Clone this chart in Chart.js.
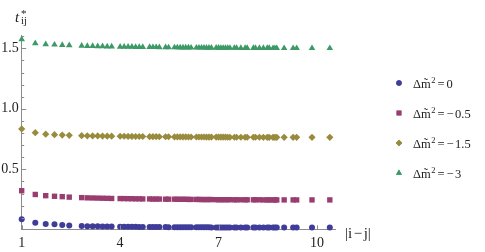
<!DOCTYPE html>
<html>
<head>
<meta charset="utf-8">
<script src="https://cdn.jsdelivr.net/npm/chart.js@4.4.1/dist/chart.umd.min.js"></script>
<style>
  html, body { margin: 0; padding: 0; background: #fff; }
  #wrap { width: 485px; height: 252px; }
</style>
</head>
<body>
<div id="wrap"><canvas id="plot" width="485" height="252"></canvas></div>
<script>
// distances |i-j| on the lattice
const dist = [1, 1.414, 1.732, 2, 2.236, 2.449, 2.828, 3, 3.162, 3.317,
  3.464, 3.606, 3.742, 4, 4.123, 4.243, 4.359, 4.472, 4.583, 4.690,
  4.899, 5, 5.099, 5.196, 5.385, 5.477, 5.657, 5.745, 5.831, 5.916,
  6, 6.083, 6.164, 6.325, 6.403, 6.481, 6.557, 6.633, 6.708, 6.782,
  6.928, 7, 7.071, 7.141, 7.211, 7.280, 7.348, 7.483, 7.550, 7.681,
  7.810, 7.874, 8.062, 8.124, 8.246, 8.367, 8.485, 8.544, 8.660, 8.718,
  8.775, 9, 9.274, 9.381, 9.849, 10.392];

// t*_ij for each Δm̃² value
const tZero = [0.087, 0.059, 0.048, 0.046, 0.040, 0.035, 0.031, 0.030, 0.030, 0.029,
  0.028, 0.028, 0.027, 0.026, 0.026, 0.025, 0.025, 0.025, 0.024, 0.024,
  0.024, 0.023, 0.023, 0.023, 0.023, 0.022, 0.022, 0.022, 0.022, 0.022,
  0.022, 0.021, 0.021, 0.021, 0.021, 0.021, 0.021, 0.021, 0.021, 0.020,
  0.020, 0.020, 0.020, 0.020, 0.020, 0.020, 0.020, 0.020, 0.020, 0.020,
  0.020, 0.020, 0.019, 0.019, 0.019, 0.019, 0.019, 0.019, 0.019, 0.019,
  0.019, 0.019, 0.019, 0.019, 0.019, 0.019];
const tHalf = [0.323, 0.292, 0.282, 0.277, 0.274, 0.270, 0.266, 0.264, 0.263, 0.262,
  0.261, 0.260, 0.259, 0.258, 0.258, 0.257, 0.257, 0.256, 0.256, 0.255,
  0.255, 0.254, 0.254, 0.254, 0.253, 0.253, 0.253, 0.252, 0.252, 0.252,
  0.252, 0.251, 0.251, 0.251, 0.251, 0.250, 0.250, 0.250, 0.250, 0.250,
  0.249, 0.249, 0.249, 0.249, 0.249, 0.249, 0.249, 0.248, 0.248, 0.248,
  0.248, 0.248, 0.248, 0.248, 0.248, 0.247, 0.247, 0.247, 0.247, 0.247,
  0.247, 0.247, 0.247, 0.247, 0.247, 0.247];
const tOneHalf = [0.834, 0.803, 0.790, 0.786, 0.783, 0.781, 0.778, 0.777, 0.776, 0.776,
  0.775, 0.774, 0.774, 0.773, 0.773, 0.772, 0.772, 0.771, 0.771, 0.771,
  0.770, 0.770, 0.770, 0.769, 0.769, 0.769, 0.768, 0.768, 0.768, 0.768,
  0.768, 0.767, 0.767, 0.767, 0.767, 0.767, 0.767, 0.766, 0.766, 0.766,
  0.766, 0.766, 0.766, 0.766, 0.766, 0.765, 0.765, 0.765, 0.765, 0.765,
  0.765, 0.765, 0.765, 0.765, 0.765, 0.764, 0.764, 0.764, 0.764, 0.764,
  0.764, 0.764, 0.764, 0.764, 0.764, 0.764];
const tThree = [1.574, 1.541, 1.533, 1.530, 1.527, 1.524, 1.520, 1.519, 1.518, 1.517,
  1.516, 1.515, 1.514, 1.513, 1.513, 1.512, 1.512, 1.511, 1.511, 1.510,
  1.510, 1.509, 1.509, 1.508, 1.508, 1.507, 1.507, 1.507, 1.506, 1.506,
  1.506, 1.506, 1.505, 1.505, 1.505, 1.505, 1.505, 1.504, 1.504, 1.504,
  1.504, 1.504, 1.503, 1.503, 1.503, 1.503, 1.503, 1.503, 1.503, 1.502,
  1.502, 1.502, 1.502, 1.502, 1.502, 1.502, 1.502, 1.502, 1.501, 1.501,
  1.501, 1.501, 1.501, 1.501, 1.501, 1.501];

const legendValues = ["0", "\u22120.5", "\u22121.5", "\u22123"];
const xTicks = [1, 4, 7, 10];
const yTicks = [0.5, 1.0, 1.5];
const yMinorTicks = [0.1, 0.2, 0.3, 0.4, 0.6, 0.7, 0.8, 0.9, 1.1, 1.2, 1.3, 1.4, 1.6];

const colors = ["rgb(63,61,153)", "rgb(153,61,113)", "rgb(153,139,61)", "rgb(61,153,103)"];
const shapes = ["circle", "rect", "rectRot", "triangle"];
const radii = [3.0, 3.8, 3.6, 3.8];
const series = [tZero, tHalf, tOneHalf, tThree];

function points(ys) {
  return ys.map((y, i) => ({ x: dist[i], y: y }));
}

const SERIF = "'Liberation Serif', 'DejaVu Serif', serif";

// titles, inward ticks and legend
const decor = {
  id: "decor",
  afterDraw(chart) {
    const ctx = chart.ctx;
    const xs = chart.scales.x, ys = chart.scales.y;
    const x0 = xs.getPixelForValue(1), y0 = ys.getPixelForValue(0);
    ctx.save();
    ctx.strokeStyle = "#8c8c8c";
    ctx.lineWidth = 1;
    ctx.beginPath();
    xTicks.forEach(v => {
      const px = Math.round(xs.getPixelForValue(v)) + 0.5;
      ctx.moveTo(px, y0); ctx.lineTo(px, y0 - 4.5);
    });
    yTicks.forEach(v => {
      const py = Math.round(ys.getPixelForValue(v)) + 0.5;
      ctx.moveTo(x0, py); ctx.lineTo(x0 + 4.5, py);
    });
    yMinorTicks.forEach(v => {
      const py = Math.round(ys.getPixelForValue(v)) + 0.5;
      ctx.moveTo(x0, py); ctx.lineTo(x0 + 2.5, py);
    });
    ctx.stroke();

    ctx.fillStyle = "#222";
    ctx.textBaseline = "alphabetic";
    // y title t*_ij
    ctx.font = "italic 15px " + SERIF;
    ctx.fillText("t", 15, 21.5);
    ctx.font = "11px " + SERIF;
    ctx.fillText("*", 21, 17);
    ctx.font = "10.5px " + SERIF;
    ctx.fillText("ij", 21, 24);
    // x title |i−j|
    ctx.font = "15px " + SERIF;
    let tx = 345;
    ["|i", "\u2212", "j|"].forEach((s, k) => {
      if (k === 1) tx += 1.5;
      ctx.fillText(s, tx, 237.5);
      tx += ctx.measureText(s).width;
      if (k === 1) tx += 1.5;
    });

    // legend
    const ly = [83, 113, 143, 173];
    chart.data.datasets.forEach((ds, i) => {
      ctx.fillStyle = ds.backgroundColor;
      Chart.helpers.drawPoint(ctx, { pointStyle: ds.pointStyle, radius: ds.pointRadius * 0.9, rotation: 0, borderWidth: 0 }, 399, ly[i]);
      ctx.fill();
      ctx.fillStyle = "#222";
      const base = ly[i] + 4.5;
      let x = 413;
      ctx.font = "12.5px " + SERIF;
      ctx.fillText("\u0394m\u0303", x, base);
      x += ctx.measureText("\u0394m").width;
      ctx.font = "8.5px " + SERIF;
      ctx.fillText("2", x + 0.5, base - 5);
      x += ctx.measureText("2").width + 2.5;
      ctx.font = "12.5px " + SERIF;
      ctx.fillText("=", x, base);
      x += ctx.measureText("=").width + 2;
      const v = legendValues[i];
      if (v[0] === "\u2212") {
        ctx.fillText("\u2212", x, base);
        x += ctx.measureText("\u2212").width + 1.5;
        ctx.fillText(v.slice(1), x, base);
      } else {
        ctx.fillText(v, x, base);
      }
    });
    ctx.restore();
  }
};

const ctxPlot = document.getElementById("plot").getContext("2d");
new Chart(ctxPlot, {
  type: "scatter",
  data: {
    datasets: series.map((ys, i) => ({
      label: "\u0394m\u0303\u00b2=" + legendValues[i],
      data: points(ys),
      backgroundColor: colors[i],
      borderWidth: 0,
      pointStyle: shapes[i],
      pointRadius: radii[i],
      clip: false
    }))
  },
  options: {
    responsive: false,
    animation: false,
    events: [],
    layout: { padding: { left: 0, top: 35, right: 150, bottom: 0 } },
    plugins: { legend: { display: false }, tooltip: { enabled: false } },
    scales: {
      x: {
        type: "linear",
        min: 1,
        max: 10.55,
        afterFit(s) { s.height = 22.2; },
        afterBuildTicks(s) { s.ticks = xTicks.map(v => ({ value: v })); },
        grid: { display: false, drawTicks: false },
        border: { display: true, color: "#8c8c8c", width: 1 },
        ticks: { padding: 5, color: "#222", font: { family: SERIF, size: 14 }, maxRotation: 0, autoSkip: false, callback: v => String(v) }
      },
      y: {
        type: "linear",
        min: 0,
        max: 1.61,
        afterFit(s) { s.width = 21.7; },
        afterBuildTicks(s) { s.ticks = yTicks.map(v => ({ value: v })); },
        grid: { display: false, drawTicks: false },
        border: { display: true, color: "#8c8c8c", width: 1 },
        ticks: { padding: 3, color: "#222", font: { family: SERIF, size: 14 }, autoSkip: false, callback: v => v.toFixed(1) }
      }
    }
  },
  plugins: [decor]
});
</script>
</body>
</html>
